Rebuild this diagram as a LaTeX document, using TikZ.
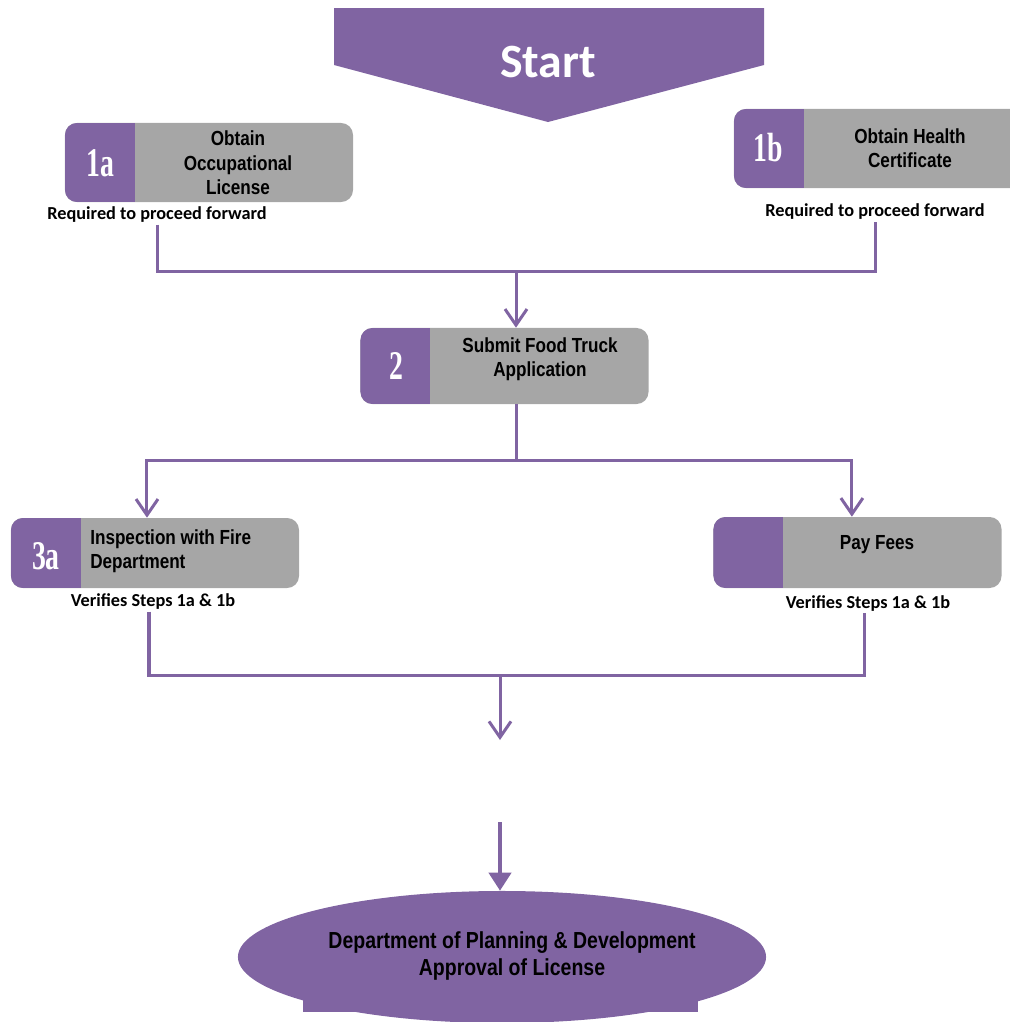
\documentclass[tikz,border=0pt]{standalone}
\usepackage{fontspec}
\usetikzlibrary{arrows.meta,shapes.geometric}
\setmainfont{Liberation Sans}
\newfontfamily\narrowfont[FakeStretch=0.84]{Liberation Sans}
\newfontfamily\notefont{Carlito}
\newfontfamily\stepfont[FakeStretch=0.68]{Liberation Serif}
\definecolor{lilac}{HTML}{8064A2}
\definecolor{cardgray}{HTML}{A6A6A6}
\tikzset{
  cardbox/.style={fill=cardgray, rounded corners=0.3cm, minimum width=7.2cm, minimum height=#1, inner sep=0pt,
    path picture={\fill[lilac, sharp corners] (path picture bounding box.south west) rectangle ([xshift=1.75cm]path picture bounding box.north west);}},
  cardtext/.style={font=\narrowfont\bfseries\fontsize{14.5}{17.4}\selectfont, align=center, inner sep=0pt},
  steplabel/.style={font=\stepfont\bfseries\fontsize{29}{30}\selectfont, text=white, inner sep=0pt},
  note/.style={font=\notefont\bfseries\fontsize{13}{14}\selectfont, inner sep=1pt},
  link/.style={draw=lilac, line width=0.075cm},
  linkarrow/.style={link, -{Straight Barb[length=0.4cm,width=0.55cm]}},
  bigarrow/.style={draw=lilac, line width=0.1cm, -{Triangle[length=0.45cm,width=0.55cm]}},
}
\begin{document}
\begin{tikzpicture}[x=0.025cm, y=-0.025cm]
        \useasboundingbox (0,0) rectangle (1010,1022);
        % start banner
        \fill[lilac] (334,8) -- (764,8) -- (764,65) -- (548,122) -- (334,65) -- cycle;
        \node[font=\notefont\bfseries\fontsize{34}{36}\selectfont, text=white] (start) at (548,62) {Start};
        % step 1
        \node[cardbox=1.975cm] (b1a) at (209,162.5) {};
        \node[cardtext] (t1a) at (238,163) {Obtain\\Occupational\\License};
        \node[steplabel] (n1a) at (100,163) {1a};
        \node[note] (req1a) at (157,215) {Required to proceed forward};
        \node[cardbox=1.975cm] (b1b) at (878,148.5) {};
        \node[cardtext] (t1b) at (910,148) {Obtain Health\\Certificate};
        \node[steplabel] (n1b) at (768,148) {1b};
        \node[note] (req1b) at (875,212) {Required to proceed forward};
        % step 2
        \node[cardbox=1.9cm] (b2) at (504.5,366) {};
        \node[cardtext] (t2) at (540,359) {Submit Food Truck\\Application};
        \node[steplabel] (n2) at (396,366) {2};
        % step 3
        \node[cardbox=1.75cm] (b3a) at (155,553) {};
        \node[cardtext, align=left, anchor=west] (t3a) at (90,551) {Inspection with Fire\\Department};
        \node[steplabel] (n3a) at (46,556) {3a};
        \node[note] (ver3a) at (153,602) {Verifies Steps 1a \& 1b};
        \node[cardbox=1.775cm] (bpf) at (857.5,552.5) {};
        \node[cardtext] (tpf) at (877,545) {Pay Fees};
        \node[note] (verpf) at (868,603) {Verifies Steps 1a \& 1b};
        % approval
        \node[ellipse, fill=lilac, inner sep=0pt, minimum width=13.2cm, minimum height=3.3cm] (ell) at (502,957) {};
        \fill[lilac] (303,975) rectangle (698,1012);
        \node[cardtext, font=\narrowfont\bfseries\fontsize{16.5}{18.6}\selectfont] (tell) at (512,956) {Department of Planning \& Development\\Approval of License};
        % connectors
        \coordinate (j1) at (516,271);
        \coordinate (j2) at (516,460);
        \coordinate (j3) at (500,675);
        \coordinate (gap1) at (500,740);
        \coordinate (gap2) at (500,822);
        \draw[link] (req1a.south) |- (j1) -| (req1b.south);
        \draw[linkarrow] (j1) -- (j1 |- b2.north);
        \draw[link] (b2.south -| j2) -- (j2);
        \draw[linkarrow] (j2) -| ([xshift=-0.2cm]b3a.north);
        \draw[linkarrow] (j2) -| ([xshift=-0.14cm]bpf.north);
        \draw[link] ([xshift=-0.1cm]ver3a.south) |- (j3) -| ([xshift=-0.1cm]verpf.south);
        \draw[linkarrow] (j3) -- (gap1);
        \draw[bigarrow] (gap2) -- (gap2 |- ell.north);
\end{tikzpicture}
\end{document}
